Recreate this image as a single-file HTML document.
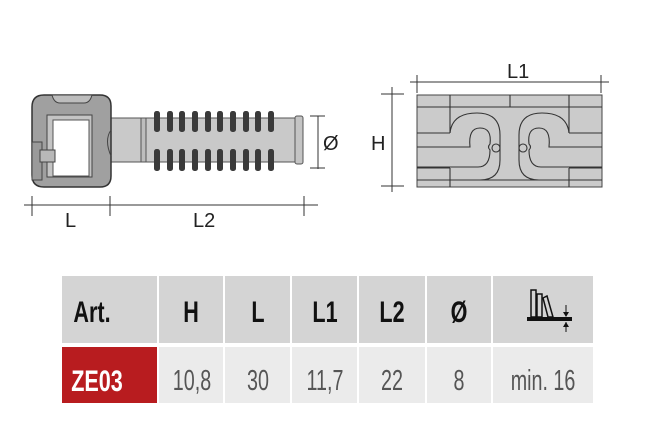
<!DOCTYPE html>
<html><head><meta charset="utf-8"><style>
html,body{margin:0;padding:0;background:#fff;width:647px;height:445px;overflow:hidden}
svg{position:absolute;left:0;top:0}
.t{font-family:"Liberation Sans Narrow","Liberation Sans",sans-serif;}
</style></head><body>
<svg width="647" height="445" viewBox="0 0 647 445">
<g stroke="#444" stroke-width="1" fill="#c8c8c8">
  <rect x="108" y="118" width="190" height="44" fill="#c9c9c9" stroke="#555"/>
  <rect x="141" y="118" width="5" height="44" fill="#bdbdbd" stroke="#555"/>
  <rect x="295" y="116" width="8" height="48" rx="2" fill="#c4c4c4" stroke="#555"/>
  <path d="M44,95 H100 Q111,95 111,106 V176 Q111,187 100,187 H44 Q32,187 32,175 V107 Q32,95 44,95 Z" fill="#a0a0a0" stroke="#333" stroke-width="1.5"/>
  <path d="M52,95 Q54,103 60,103 H84 Q90,103 92,95 Z" fill="#bdbdbd"/>
  <rect x="47" y="115" width="45" height="62" fill="#c4c4c4"/>
  <rect x="53" y="120" width="36" height="56" fill="#fff" stroke="#555"/>
  <rect x="32" y="142" width="10" height="38" fill="#9a9a9a"/>
  <rect x="40" y="150" width="15" height="12" fill="#b8b8b8"/>
  <path d="M111,130 Q104,140 111,156" fill="none"/>
</g>
<g fill="#3a3a3a">
  <rect x="154" y="111" width="6" height="21" rx="2.5"/><rect x="167" y="111" width="6" height="21" rx="2.5"/><rect x="179" y="111" width="6" height="21" rx="2.5"/><rect x="192" y="111" width="6" height="21" rx="2.5"/><rect x="205" y="111" width="6" height="21" rx="2.5"/><rect x="217" y="111" width="6" height="21" rx="2.5"/><rect x="230" y="111" width="6" height="21" rx="2.5"/><rect x="243" y="111" width="6" height="21" rx="2.5"/><rect x="255" y="111" width="6" height="21" rx="2.5"/><rect x="268" y="111" width="6" height="21" rx="2.5"/>
  <rect x="154" y="149" width="6" height="22" rx="2.5"/><rect x="167" y="149" width="6" height="22" rx="2.5"/><rect x="179" y="149" width="6" height="22" rx="2.5"/><rect x="192" y="149" width="6" height="22" rx="2.5"/><rect x="205" y="149" width="6" height="22" rx="2.5"/><rect x="217" y="149" width="6" height="22" rx="2.5"/><rect x="230" y="149" width="6" height="22" rx="2.5"/><rect x="243" y="149" width="6" height="22" rx="2.5"/><rect x="255" y="149" width="6" height="22" rx="2.5"/><rect x="268" y="149" width="6" height="22" rx="2.5"/>
</g>
<g stroke="#333" stroke-width="1" fill="none">
  <line x1="318" y1="116" x2="318" y2="169"/><line x1="310" y1="116" x2="325" y2="116"/><line x1="310" y1="168" x2="325" y2="168"/>
  <line x1="24" y1="205" x2="318" y2="205"/>
  <line x1="32" y1="196" x2="32" y2="216"/><line x1="110" y1="196" x2="110" y2="216"/><line x1="304" y1="196" x2="304" y2="216"/>
</g>
<g font-family="Liberation Sans,sans-serif" font-size="20" fill="#222">
  <text x="323" y="150">Ø</text>
  <text x="65" y="227">L</text>
  <text x="193" y="227">L2</text>
  <text x="507" y="78">L1</text>
  <text x="371" y="150">H</text>
</g>
<g stroke="#333" stroke-width="1" fill="none">
  <line x1="410" y1="82" x2="609" y2="82"/><line x1="417" y1="75" x2="417" y2="93"/><line x1="601" y1="75" x2="601" y2="93"/>
  <line x1="392" y1="87" x2="392" y2="192"/><line x1="381" y1="94" x2="404" y2="94"/><line x1="381" y1="186" x2="404" y2="186"/>
</g>
<rect x="417" y="95" width="185" height="92" fill="#cbcbcb" stroke="#444"/>
<g stroke="#333" stroke-width="1.1" fill="none">
  <line x1="417" y1="107" x2="602" y2="107"/>
  <line x1="450" y1="95" x2="450" y2="133"/><line x1="510" y1="95" x2="510" y2="107"/><line x1="569" y1="95" x2="569" y2="133"/>
  <line x1="450" y1="168" x2="450" y2="187"/><line x1="569" y1="168" x2="569" y2="187"/>
  <line x1="417" y1="133" x2="450" y2="133"/><line x1="569" y1="133" x2="602" y2="133"/>
  <line x1="417" y1="168" x2="450" y2="168"/><line x1="569" y1="168" x2="602" y2="168"/>
  <line x1="417" y1="180" x2="602" y2="180"/>
  <path d="M450,133 Q452,113 477,113 Q500,113 500,135 V160 Q500,180 480,180"/>
  <path d="M417,147 H470 Q468,128 480,128 Q492,128 490,144 Q487,147 490,150 Q490,167 478,167 H417"/>
  <circle cx="496" cy="148" r="4"/>
  <path d="M569,133 Q567,113 542,113 Q519,113 519,135 V160 Q519,180 539,180"/>
  <path d="M602,147 H549 Q551,128 539,128 Q527,128 529,144 Q532,147 529,150 Q529,167 541,167 H602"/>
  <circle cx="523" cy="148" r="4"/>
</g>
<rect x="62" y="276" width="531" height="67" fill="#d4d4d4"/>
<rect x="62" y="347" width="531" height="56" fill="#ebebeb"/>
<rect x="62" y="347" width="95" height="56" fill="#b81c1f"/>
<g stroke="#fff" stroke-width="2">
  <line x1="158" y1="276" x2="158" y2="403"/><line x1="224" y1="276" x2="224" y2="403"/><line x1="291" y1="276" x2="291" y2="403"/><line x1="358" y1="276" x2="358" y2="403"/><line x1="426" y1="276" x2="426" y2="403"/><line x1="492" y1="276" x2="492" y2="403"/>
</g>
<g class="t" font-size="30" font-weight="bold" fill="#111" text-anchor="middle">
  <text x="92" y="322" transform="translate(92 0) scale(0.72 1) translate(-92 0)">Art.</text>
  <text x="191" y="322" transform="translate(191 0) scale(0.72 1) translate(-191 0)">H</text>
  <text x="258" y="322" transform="translate(258 0) scale(0.72 1) translate(-258 0)">L</text>
  <text x="325" y="322" transform="translate(325 0) scale(0.72 1) translate(-325 0)">L1</text>
  <text x="392" y="322" transform="translate(392 0) scale(0.72 1) translate(-392 0)">L2</text>
  <text x="459" y="322" transform="translate(459 0) scale(0.72 1) translate(-459 0)">Ø</text>
  <text x="97" y="391" fill="#fff" transform="translate(97 0) scale(0.72 1) translate(-97 0)">ZE03</text>
</g>
<g class="t" font-size="29" fill="#555" text-anchor="middle">
  <text x="192" y="390" transform="translate(192 0) scale(0.68 1) translate(-192 0)">10,8</text>
  <text x="258" y="390" transform="translate(258 0) scale(0.68 1) translate(-258 0)">30</text>
  <text x="325" y="390" transform="translate(325 0) scale(0.68 1) translate(-325 0)">11,7</text>
  <text x="392" y="390" transform="translate(392 0) scale(0.68 1) translate(-392 0)">22</text>
  <text x="459" y="390" transform="translate(459 0) scale(0.68 1) translate(-459 0)">8</text>
  <text x="543" y="390" transform="translate(543 0) scale(0.68 1) translate(-543 0)">min. 16</text>
</g>
<g stroke="#111" stroke-width="1.5" fill="none">
  <rect x="531" y="290" width="5" height="27"/>
  <rect x="537" y="294" width="5" height="23"/>
  <path d="M543,298 L547,296 L553,317 L548,317 Z"/>
  <line x1="527" y1="319" x2="572" y2="319" stroke-width="4"/>
  <line x1="566" y1="305" x2="566" y2="316" stroke-width="1"/>
  <line x1="566" y1="322" x2="566" y2="332" stroke-width="1"/>
</g>
<path d="M563,312 L569,312 L566,317 Z M563,327 L569,327 L566,322 Z" fill="#111"/>
</svg>
</body></html>
